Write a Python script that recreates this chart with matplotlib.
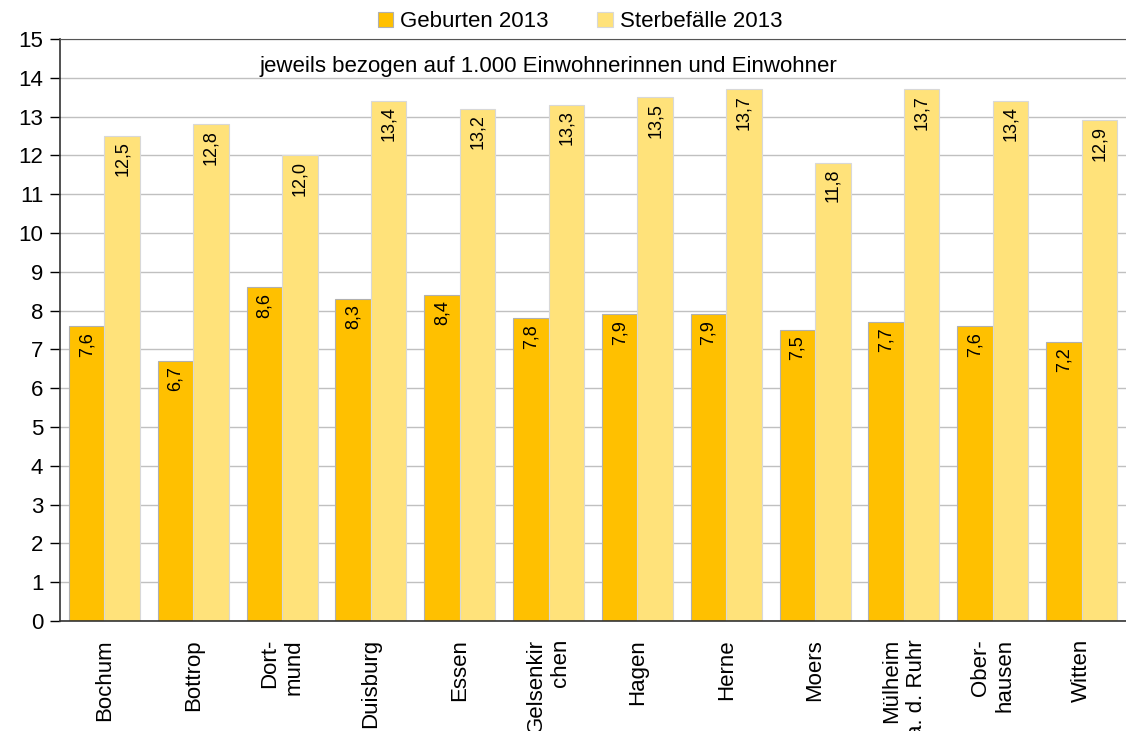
import matplotlib.pyplot as plt
import numpy as np

staedte = ["Bochum", "Bottrop", "Dort-\nmund", "Duisburg", "Essen", "Gelsenkir\nchen",
           "Hagen", "Herne", "Moers", "Mülheim\na. d. Ruhr", "Ober-\nhausen", "Witten"]
geburten = [7.6, 6.7, 8.6, 8.3, 8.4, 7.8, 7.9, 7.9, 7.5, 7.7, 7.6, 7.2]
sterbefaelle = [12.5, 12.8, 12.0, 13.4, 13.2, 13.3, 13.5, 13.7, 11.8, 13.7, 13.4, 12.9]

plt.rcParams["font.family"] = ["Liberation Sans", "DejaVu Sans"]

fig = plt.figure(figsize=(11.26, 7.31), dpi=100)
ax = fig.add_axes([0.0533, 0.1505, 0.9467, 0.7962])

x = np.arange(len(staedte))
w = 0.4
b1 = ax.bar(x - w / 2, geburten, w, color="#FFC000", edgecolor="#b0b0b0",
            linewidth=0.8, label="Geburten 2013", zorder=2)
b2 = ax.bar(x + w / 2, sterbefaelle, w, color="#FFE27A", edgecolor="#d8d8d8",
            linewidth=0.8, label="Sterbefälle 2013", zorder=2)

for bars, vals in [(b1, geburten), (b2, sterbefaelle)]:
    for rect, v in zip(bars, vals):
        ax.annotate(f"{v:.1f}".replace(".", ","),
                    xy=(rect.get_x() + rect.get_width() / 2, v),
                    xytext=(0, -4), textcoords="offset points",
                    rotation=90, ha="center", va="top", fontsize=13, zorder=3)

ax.set_xlim(-0.5, len(staedte) - 0.5)
ax.set_ylim(0, 15)
ax.set_yticks(range(0, 16))
ax.tick_params(axis="y", labelsize=16, length=7, width=1, direction="out", pad=5)
ax.yaxis.grid(True, color="#c0c0c0", linewidth=1, zorder=0)
ax.set_axisbelow(True)

ax.set_xticks(x)
ax.set_xticklabels(staedte, rotation=90, fontsize=16, ha="center", va="top",
                   multialignment="right")
ax.tick_params(axis="x", length=0, pad=13)

for s in ["left", "bottom"]:
    ax.spines[s].set_color("#333333")
    ax.spines[s].set_linewidth(1.2)
ax.spines["top"].set_color("#555555")
ax.spines["right"].set_visible(False)

ax.text(5.0, 14.28, "jeweils bezogen auf 1.000 Einwohnerinnen und Einwohner",
        ha="center", va="center", fontsize=16)

fig.legend(loc="upper center", bbox_to_anchor=(0.515, 1.012), ncol=2, frameon=False,
           fontsize=16, handlelength=0.7, handleheight=0.7, handletextpad=0.3,
           columnspacing=2.2)

fig.savefig("out.png", dpi=100)
